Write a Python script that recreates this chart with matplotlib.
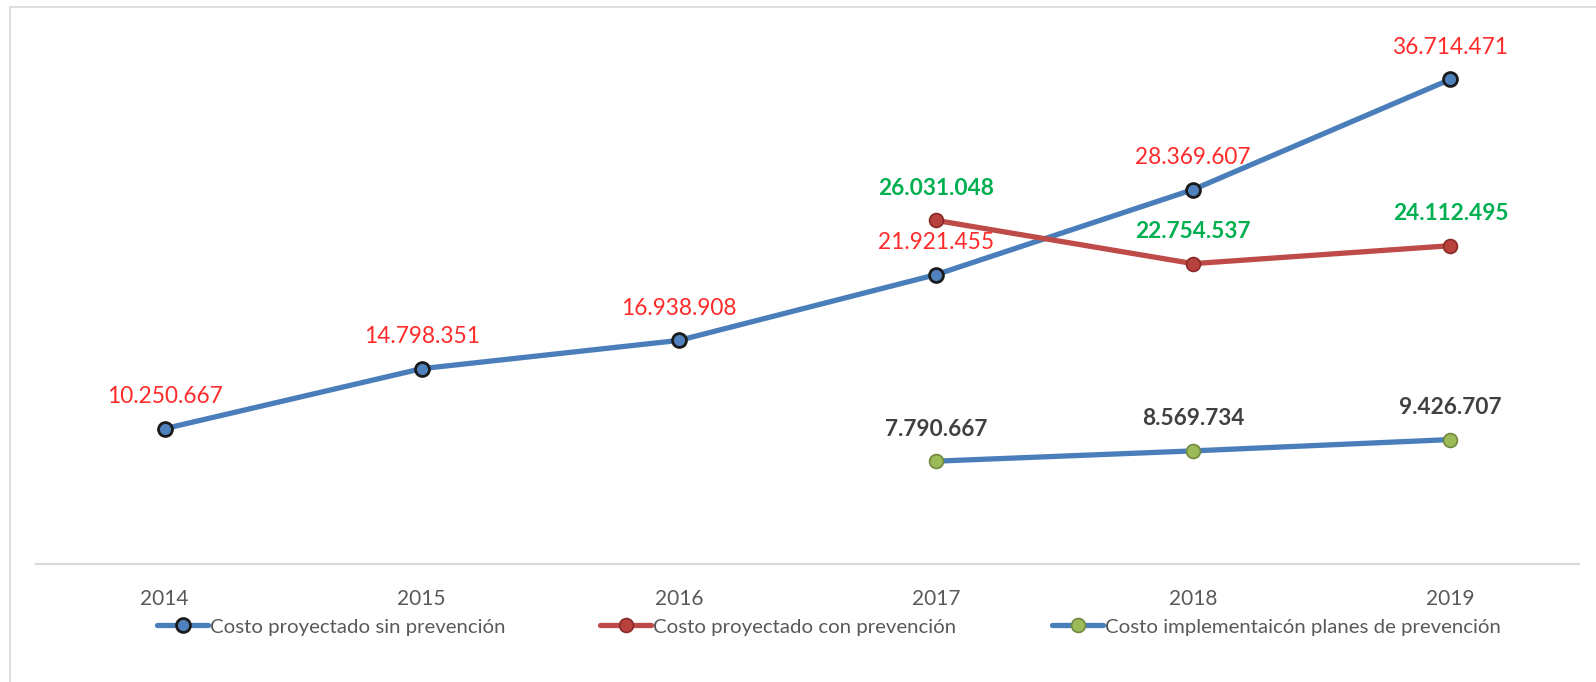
import matplotlib
matplotlib.use("Agg")
import matplotlib.pyplot as plt
from matplotlib.patches import Rectangle

years = ["2014", "2015", "2016", "2017", "2018", "2019"]
sin_prev = [10250667, 14798351, 16938908, 21921455, 28369607, 36714471]
con_prev_years = ["2017", "2018", "2019"]
con_prev = [26031048, 22754537, 24112495]
impl_years = ["2017", "2018", "2019"]
impl = [7790667, 8569734, 9426707]

names = ["Costo proyectado sin prevención",
         "Costo proyectado con prevención",
         "Costo implementaicón planes de prevención"]

def fmt(v):
    return f"{v:,}".replace(",", ".")

plt.rcParams['font.family'] = ['Lato', 'DejaVu Sans']

fig = plt.figure(figsize=(15.96, 6.82), dpi=100)
ax = fig.add_axes([36/1596, 1-564/682, (1579-36)/1596, (564-36)/682])

xs = {y: i for i, y in enumerate(years)}
x1 = [xs[y] for y in years]
x2 = [xs[y] for y in con_prev_years]
x3 = [xs[y] for y in impl_years]

l1, = ax.plot(x1, sin_prev, color="#4A7EBB", lw=3.8, marker="o", ms=10,
              mfc="#4F81BD", mec="#1b1b1b", mew=2.0, solid_capstyle="round",
              label=names[0], zorder=3)
l2, = ax.plot(x2, con_prev, color="#BE4B48", lw=3.8, marker="o", ms=10,
              mfc="#B8403D", mec="#8a2a28", mew=1.2, solid_capstyle="round",
              label=names[1], zorder=3)
l3, = ax.plot(x3, impl, color="#4A7EBB", lw=3.8, marker="o", ms=10,
              mfc="#9BBB59", mec="#71893f", mew=1.2, solid_capstyle="round",
              label=names[2], zorder=3)

fs = 16.3
for x, v in zip(x1, sin_prev):
    ax.annotate(fmt(v), (x, v), xytext=(0, 23), textcoords="offset points",
                ha="center", va="center", fontsize=fs, color="#FF2A2A")
for x, v in zip(x2, con_prev):
    ax.annotate(fmt(v), (x, v), xytext=(0, 23), textcoords="offset points",
                ha="center", va="center", fontsize=fs, color="#00B050",
                fontweight="bold")
for x, v in zip(x3, impl):
    ax.annotate(fmt(v), (x, v), xytext=(0, 23), textcoords="offset points",
                ha="center", va="center", fontsize=fs, color="#404040",
                fontweight="bold")

ax.set_xlim(-0.5, len(years) - 0.5)
ax.set_ylim(0, 40000000)
ax.set_xticks(range(len(years)))
ax.set_xticklabels(years, fontsize=15, color="#595959")
ax.tick_params(axis="x", length=0, pad=18)
ax.set_yticks([])
for s in ["top", "right", "left"]:
    ax.spines[s].set_visible(False)
ax.spines["bottom"].set_color("#D9D9D9")
ax.spines["bottom"].set_linewidth(1.5)

for h, xl in zip([l1, l2, l3], [157, 600, 1052]):
    lg = fig.legend(handles=[h], loc="center left",
                    bbox_to_anchor=(xl/1596, 1-627/682), frameon=False,
                    fontsize=14.7, handlelength=2.5, handletextpad=0.1,
                    borderpad=0, borderaxespad=0, labelcolor="#595959")

fig.patches.append(Rectangle((9.5/1596, -0.1), 1.2, 1.1 - 7/682,
                             transform=fig.transFigure, fill=False,
                             edgecolor="#D9D9D9", lw=1.2))

fig.savefig("out.png", dpi=100)
